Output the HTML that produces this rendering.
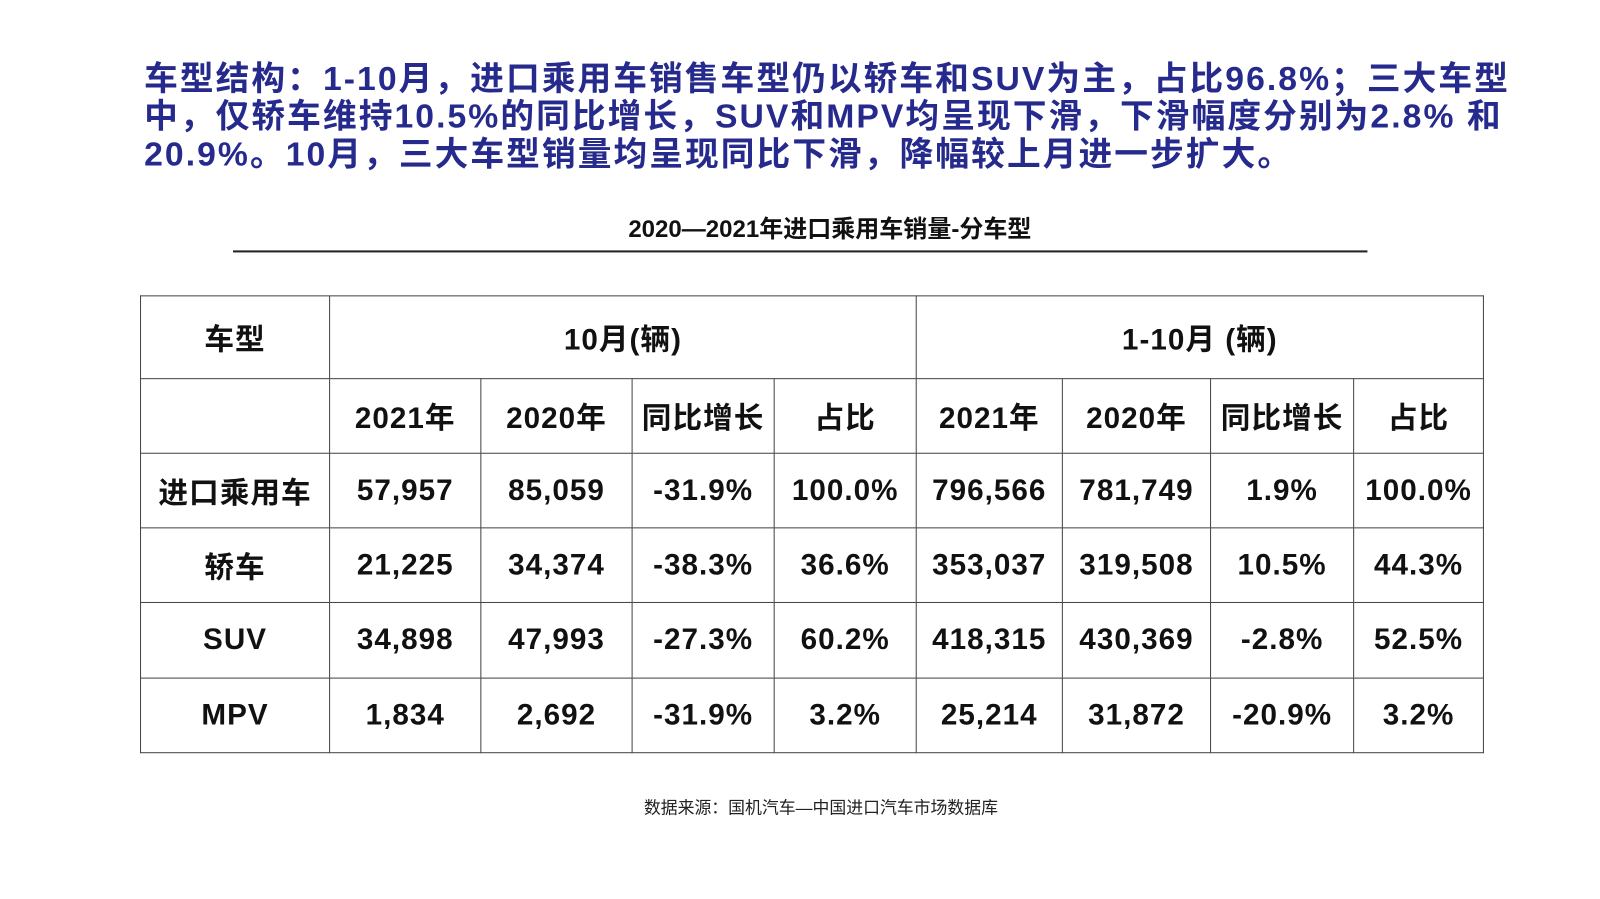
<!DOCTYPE html>
<html><head><meta charset="utf-8"><style>
body{margin:0;width:1600px;height:899px;background:#fff;position:relative;overflow:hidden;font-family:"Liberation Sans","Noto Sans CJK SC",sans-serif;}
#w{position:absolute;left:0;top:0;width:1566px;height:880px;transform:scale(1.022);transform-origin:0 0;}
.t{position:absolute;left:141px;color:#262a8c;font-weight:bold;font-size:33px;white-space:nowrap;line-height:37px;letter-spacing:2px;}
.sub{position:absolute;left:612px;width:400px;text-align:center;top:205px;font-size:23.5px;font-weight:bold;color:#111;white-space:nowrap;}
.rule{position:absolute;left:228px;width:1110px;top:245px;height:2px;background:#222;}
table{position:absolute;left:137px;top:289px;border-collapse:collapse;}
td{border:1px solid #444;text-align:center;font-weight:bold;font-size:29px;color:#111;padding:0;letter-spacing:1px;}
.src{position:absolute;left:630px;width:342px;text-align:center;top:777px;font-size:16.5px;color:#222;white-space:nowrap;}
</style></head><body><div id="w">
<div class="t" style="top:58px">车型结构：1-10月，进口乘用车销售车型仍以轿车和SUV为主，占比96.8%；三大车型</div>
<div class="t" style="top:95px">中，仅轿车维持10.5%的同比增长，SUV和MPV均呈现下滑，下滑幅度分别为2.8% 和</div>
<div class="t" style="top:132px">20.9%。10月，三大车型销量均呈现同比下滑，降幅较上月进一步扩大。</div>
<div class="sub">2020—2021年进口乘用车销量-分车型</div>
<div class="rule"></div>
<table>
<colgroup><col style="width:185px"><col style="width:148px"><col style="width:148px"><col style="width:139px"><col style="width:139px"><col style="width:143px"><col style="width:145px"><col style="width:140px"><col style="width:127px"></colgroup>
<tr style="height:81px"><td>车型</td><td colspan="4">10月(辆)</td><td colspan="4">1-10月 (辆)</td></tr>
<tr style="height:73px"><td></td><td>2021年</td><td>2020年</td><td>同比增长</td><td>占比</td><td>2021年</td><td>2020年</td><td>同比增长</td><td>占比</td></tr>
<tr style="height:73px"><td>进口乘用车</td><td>57,957</td><td>85,059</td><td>-31.9%</td><td>100.0%</td><td>796,566</td><td>781,749</td><td>1.9%</td><td>100.0%</td></tr>
<tr style="height:73px"><td>轿车</td><td>21,225</td><td>34,374</td><td>-38.3%</td><td>36.6%</td><td>353,037</td><td>319,508</td><td>10.5%</td><td>44.3%</td></tr>
<tr style="height:74px"><td>SUV</td><td>34,898</td><td>47,993</td><td>-27.3%</td><td>60.2%</td><td>418,315</td><td>430,369</td><td>-2.8%</td><td>52.5%</td></tr>
<tr style="height:73px"><td>MPV</td><td>1,834</td><td>2,692</td><td>-31.9%</td><td>3.2%</td><td>25,214</td><td>31,872</td><td>-20.9%</td><td>3.2%</td></tr>
</table>
<div class="src">数据来源：国机汽车—中国进口汽车市场数据库</div>
</div></body></html>
